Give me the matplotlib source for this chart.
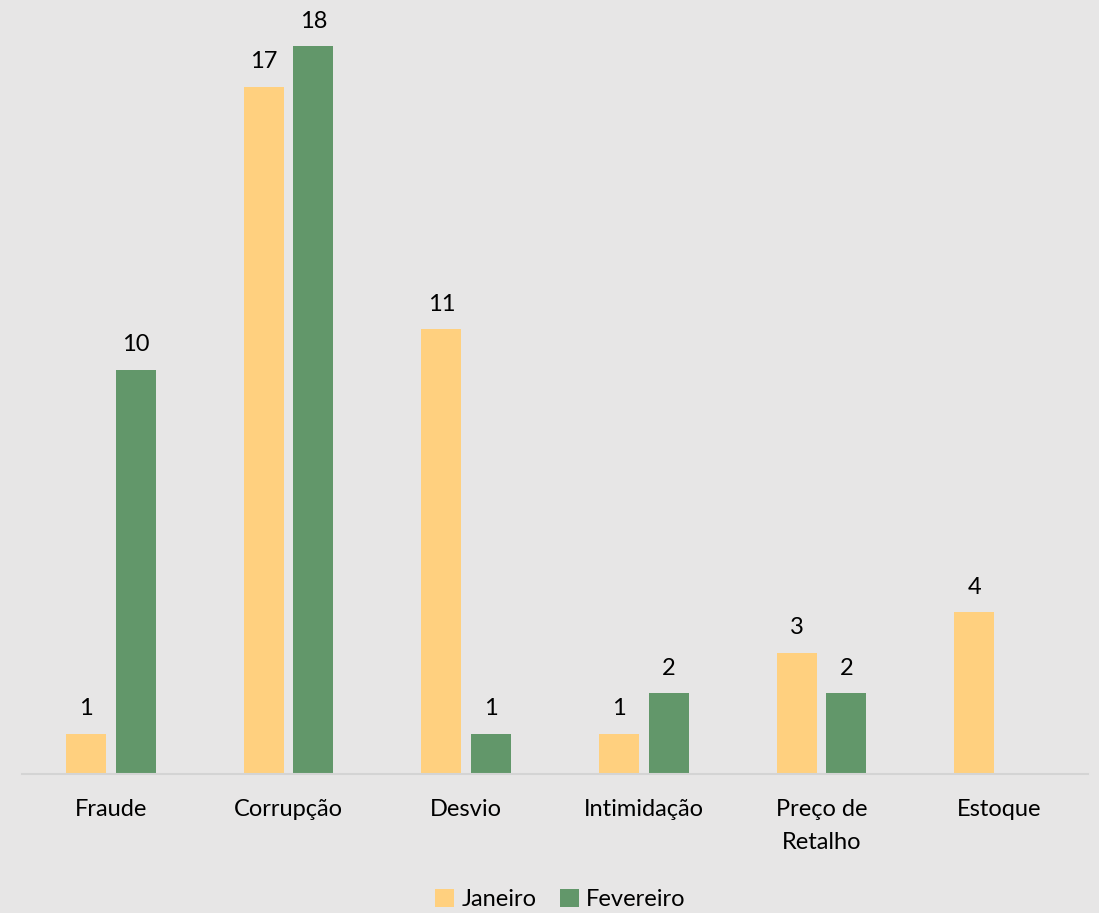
import matplotlib
matplotlib.use("Agg")
import matplotlib.pyplot as plt
import numpy as np

categories = ["Fraude", "Corrupção", "Desvio", "Intimidação", "Preço de\nRetalho", "Estoque"]
janeiro = [1, 17, 11, 1, 3, 4]
fevereiro = [10, 18, 1, 2, 2, None]

bg = "#E7E6E6"
c_jan = "#FFD07F"
c_fev = "#62976A"

plt.rcParams['font.family'] = ['Lato', 'DejaVu Sans']

fig = plt.figure(figsize=(10.99, 9.13), dpi=100, facecolor=bg)
ax = fig.add_axes([22/1099, (913-774)/913, (1088-22)/1099, (774-10)/913])
ax.set_facecolor(bg)

x = np.arange(len(categories))
w = 0.225
off = 0.14
fs = 17
for i in range(len(categories)):
    if janeiro[i] is not None:
        ax.bar(x[i]-off, janeiro[i], w, color=c_jan, label="Janeiro" if i == 0 else None)
        ax.text(x[i]-off, janeiro[i]+0.36, str(janeiro[i]), ha="center", va="bottom", fontsize=fs, color="#000000")
    if fevereiro[i] is not None:
        ax.bar(x[i]+off, fevereiro[i], w, color=c_fev, label="Fevereiro" if i == 0 else None)
        ax.text(x[i]+off, fevereiro[i]+0.36, str(fevereiro[i]), ha="center", va="bottom", fontsize=fs, color="#000000")

ax.set_xlim(-0.5, len(categories)-0.5)
ax.set_ylim(0, (774-10)/40.44)
ax.set_xticks(x)
ax.set_xticklabels(categories, fontsize=fs, linespacing=1.72)
ax.tick_params(axis="x", length=0, pad=18)
ax.set_yticks([])
for s in ["top", "right", "left"]:
    ax.spines[s].set_visible(False)
ax.spines["bottom"].set_color("#D4D4D4")
ax.spines["bottom"].set_linewidth(1.5)

leg = fig.legend(loc="lower center", bbox_to_anchor=(0.51, -0.02), ncol=2, frameon=False,
                 fontsize=fs, handlelength=0.8, handleheight=0.8, handletextpad=0.3, columnspacing=1.0)

fig.savefig("out.png", dpi=100, facecolor=bg)
